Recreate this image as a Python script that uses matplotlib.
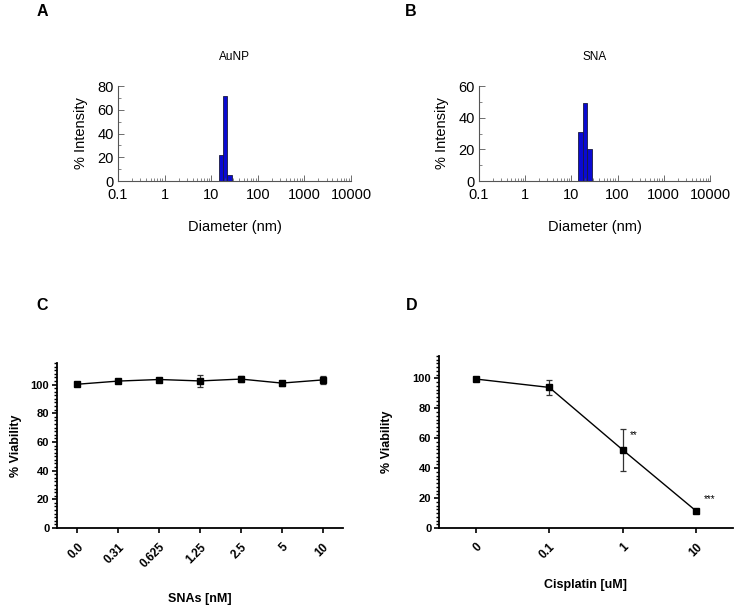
import matplotlib
matplotlib.use("Agg")
import matplotlib.pyplot as plt
from matplotlib.ticker import MultipleLocator, FixedLocator, LogLocator, NullFormatter
import numpy as np

# DLS size distributions (bin edges in nm, % intensity)
aunp_edges = [14.7, 17.9, 21.8, 27.9]
aunp_intensity = [22, 72, 5]
sna_edges = [14.1, 17.6, 21.8, 27.9]
sna_intensity = [31, 49, 20]

# viability data
sna_conc = ["0.0", "0.31", "0.625", "1.25", "2.5", "5", "10"]
sna_viab = [100.2, 102.4, 103.5, 102.5, 103.8, 101.0, 103.2]
sna_err = [0.8, 0.8, 1.3, 4.0, 1.8, 1.8, 3.0]

cis_conc = ["0", "0.1", "1", "10"]
cis_viab = [99.6, 94.0, 52.2, 11.3]
cis_err = [0.8, 5.0, 13.8, 1.0]
cis_sig = ["", "", "**", "***"]

W, H = 753, 612
fig = plt.figure(figsize=(W / 100, H / 100), dpi=100)


def box(l, t, r, b):
    return [l / W, 1 - b / H, (r - l) / W, (b - t) / H]


reg = ["Liberation Sans", "DejaVu Sans"]
narrow = ["Liberation Sans Narrow", "Liberation Sans", "DejaVu Sans"]


def dls(ax, edges, vals, ymax, title):
    widths = np.diff(edges)
    ax.bar(edges[:-1], vals, width=widths, align="edge", color="#0a0ad2",
           edgecolor="#1a1a40", linewidth=0.6)
    ax.set_xscale("log")
    ax.set_xlim(0.1, 10000)
    ax.set_ylim(0, ymax)
    ax.xaxis.set_major_locator(FixedLocator([0.1, 1, 10, 100, 1000, 10000]))
    ax.set_xticklabels(["0.1", "1", "10", "100", "1000", "10000"])
    ax.xaxis.set_minor_locator(LogLocator(base=10, subs=np.arange(2, 10)))
    ax.xaxis.set_minor_formatter(NullFormatter())
    ax.yaxis.set_major_locator(MultipleLocator(20))
    ax.yaxis.set_minor_locator(MultipleLocator(10))
    for s in ["top", "right"]:
        ax.spines[s].set_visible(False)
    for s in ["left", "bottom"]:
        ax.spines[s].set_color("#555555")
        ax.spines[s].set_linewidth(0.8)
    ax.tick_params(which="major", direction="in", length=4, width=0.6,
                   color="#555555", labelsize=10.5, pad=3)
    ax.tick_params(which="minor", direction="in", length=2.5, width=0.5,
                   color="#555555")
    ax.tick_params(axis="x", which="major", pad=5)
    for lab in ax.get_xticklabels() + ax.get_yticklabels():
        lab.set_family(reg)
    ax.set_xlabel("Diameter (nm)", fontsize=10.5, family=reg, labelpad=13)
    ax.set_ylabel("% Intensity", fontsize=10.5, family=reg, labelpad=7)
    ax.set_title(title, fontsize=8.5, family=reg, pad=19)


axA = fig.add_axes(box(118, 86, 351, 181))
dls(axA, aunp_edges, aunp_intensity, 80, "AuNP")
axB = fig.add_axes(box(479, 86, 710, 181))
dls(axB, sna_edges, sna_intensity, 60, "SNA")


def viab(ax, labels, vals, errs, xlabel, sig=None, xpad=18):
    x = np.arange(len(labels))
    ax.errorbar(x, vals, yerr=errs, color="black", marker="s", markersize=4.5,
                linewidth=1.0, elinewidth=0.9, ecolor="#333333", capsize=2.5,
                capthick=0.9)
    if sig:
        for xi, v, e, s in zip(x, vals, errs, sig):
            if s:
                ax.text(xi + 0.1, v + e - 4 if e > 5 else v + 8, s,
                        fontsize=7, family=reg, ha="left", va="center")
    ax.set_xlim(-0.5, len(labels) - 0.5)
    ax.set_ylim(0, 115)
    ax.set_xticks(x)
    ax.set_xticklabels(labels, rotation=45, ha="right", rotation_mode="anchor",
                       fontsize=8.5, fontweight="bold", family=narrow)
    ax.yaxis.set_major_locator(MultipleLocator(20))
    ax.yaxis.set_minor_locator(MultipleLocator(2.5))
    for lab in ax.get_yticklabels():
        lab.set_family(narrow)
        lab.set_fontweight("bold")
        lab.set_fontsize(8)
    for s in ["top", "right"]:
        ax.spines[s].set_visible(False)
    for s in ["left", "bottom"]:
        ax.spines[s].set_linewidth(1.3)
    ax.tick_params(which="major", direction="out", length=3.5, width=1.2, pad=2)
    ax.tick_params(axis="x", which="major", pad=6)
    ax.tick_params(which="minor", direction="out", length=2, width=1.0)
    ax.tick_params(axis="x", which="minor", length=0)
    ax.set_xlabel(xlabel, fontsize=9, fontweight="bold", family=narrow,
                  labelpad=xpad)
    ax.set_ylabel("% Viability", fontsize=9, fontweight="bold", family=narrow,
                  labelpad=14)


axC = fig.add_axes(box(57, 363, 343, 528))
viab(axC, sna_conc, sna_viab, sna_err, "SNAs [nM]", xpad=16)
axD = fig.add_axes(box(439, 356, 733, 528))
viab(axD, cis_conc, cis_viab, cis_err, "Cisplatin [uM]", cis_sig, xpad=13)
axC.yaxis.labelpad = 6

for lbl, x, y in [("A", 42, 11), ("B", 411, 11), ("C", 42, 305), ("D", 412, 305)]:
    fig.text(x / W, 1 - y / H, lbl, fontsize=11.5, fontweight="bold",
             family=reg, ha="center", va="center")

fig.savefig("out.png", dpi=100)
